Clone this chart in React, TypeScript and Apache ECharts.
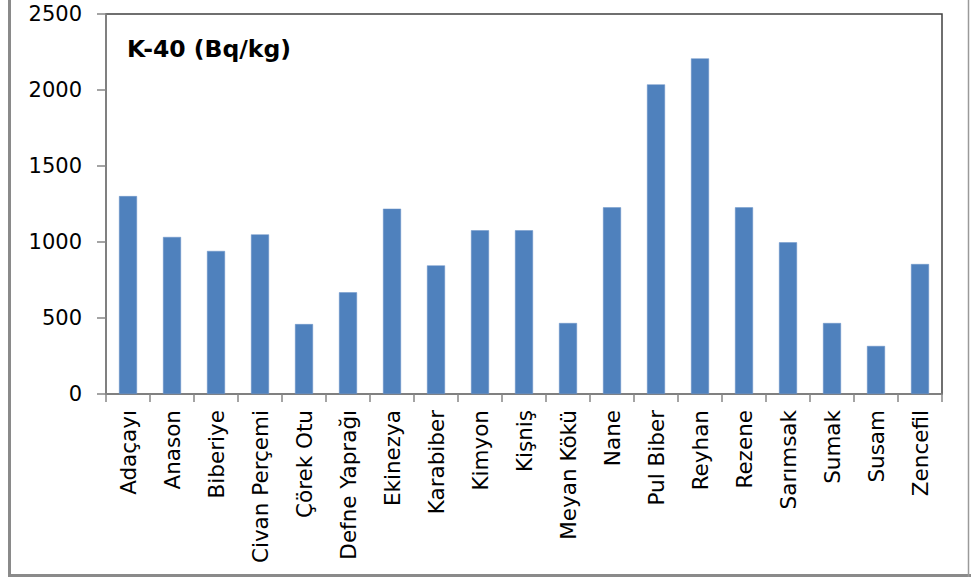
import React, { useEffect, useRef } from "react";
import * as echarts from "echarts";

// Spice names and their K-40 activity concentrations (Bq/kg)
const spices = [
  "Adaçayı",
  "Anason",
  "Biberiye",
  "Civan Perçemi",
  "Çörek Otu",
  "Defne Yaprağı",
  "Ekinezya",
  "Karabiber",
  "Kimyon",
  "Kişniş",
  "Meyan Kökü",
  "Nane",
  "Pul Biber",
  "Reyhan",
  "Rezene",
  "Sarımsak",
  "Sumak",
  "Susam",
  "Zencefil",
];

const k40Values = [
  1302, 1033, 941, 1050, 460, 669, 1219, 846, 1077, 1077, 467, 1228, 2037, 2208,
  1228, 998, 467, 316, 855,
];

const yAxisMax = 2500;
const yAxisStep = 500;

const chartTitle = "K-40 (Bq/kg)";

export default function App() {
  const ref = useRef<HTMLDivElement>(null);

  useEffect(() => {
    if (!ref.current) return;
    const chart = echarts.init(ref.current, undefined, { renderer: "svg" });
    const font = "'DejaVu Sans', Verdana, sans-serif";

    chart.setOption({
      animation: false,
      backgroundColor: "#ffffff",
      textStyle: { fontFamily: font },
      grid: {
        left: 106,
        right: 29,
        top: 14,
        bottom: 184,
        show: true,
        borderColor: "#404040",
        borderWidth: 1.5,
        backgroundColor: "transparent",
      },
      graphic: [
        // outer frame of the chart area
        {
          type: "line",
          shape: { x1: 9.5, y1: 0, x2: 9.5, y2: 575.5 },
          style: { stroke: "#8a8a8a", lineWidth: 3 },
        },
        {
          type: "line",
          shape: { x1: 8, y1: 575.5, x2: 971, y2: 575.5 },
          style: { stroke: "#8a8a8a", lineWidth: 3 },
        },
        {
          type: "line",
          shape: { x1: 968.5, y1: 0, x2: 968.5, y2: 577 },
          style: { stroke: "#9a9a9a", lineWidth: 1.5 },
        },
        {
          type: "text",
          left: 127,
          top: 37,
          style: {
            text: chartTitle,
            fontFamily: font,
            fontWeight: "bold",
            fontSize: 23.5,
            fill: "#000000",
          },
        },
      ],
      xAxis: {
        type: "category",
        data: spices,
        axisLine: { show: true, lineStyle: { color: "#868686", width: 1.5 } },
        axisTick: {
          show: true,
          alignWithLabel: false,
          length: 8,
          lineStyle: { color: "#868686", width: 1.5 },
        },
        axisLabel: {
          interval: 0,
          rotate: 90,
          margin: 16,
          fontSize: 21.5,
          color: "#000000",
          fontFamily: font,
        },
      },
      yAxis: {
        type: "value",
        min: 0,
        max: yAxisMax,
        interval: yAxisStep,
        splitLine: { show: false },
        axisLine: { show: true, lineStyle: { color: "#868686", width: 1.5 } },
        axisTick: {
          show: true,
          inside: false,
          length: 9,
          lineStyle: { color: "#868686", width: 1.5 },
        },
        axisLabel: {
          margin: 24,
          fontSize: 21,
          color: "#000000",
          fontFamily: font,
          formatter: (v: number) => String(v),
        },
      },
      series: [
        {
          type: "bar",
          data: k40Values,
          barWidth: 18,
          itemStyle: {
            color: "#4f81bd",
            borderColor: "#6c95c8",
            borderWidth: 0.5,
          },
        },
      ],
    });

    return () => chart.dispose();
  }, []);

  return (
    <div
      ref={ref}
      style={{
        position: "fixed",
        left: 0,
        top: 0,
        width: 971,
        height: 578,
        background: "#ffffff",
      }}
    />
  );
}
